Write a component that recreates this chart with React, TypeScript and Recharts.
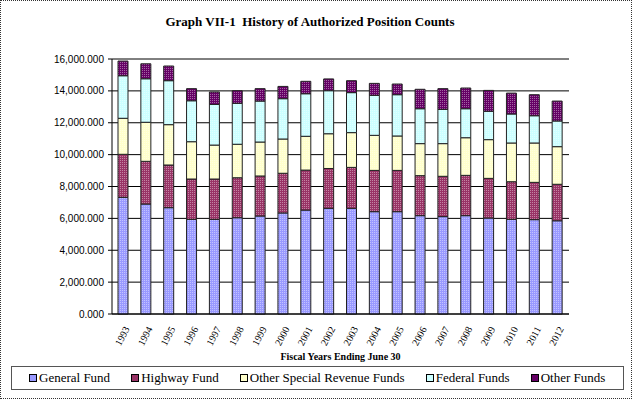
import React from 'react';
import { BarChart, Bar, XAxis, YAxis, CartesianGrid, Legend } from 'recharts';

const years = [
  '1993', '1994', '1995', '1996', '1997', '1998', '1999', '2000', '2001', '2002',
  '2003', '2004', '2005', '2006', '2007', '2008', '2009', '2010', '2011', '2012',
];

const generalFund = [7320, 6900, 6670, 5940, 5940, 6040, 6150, 6340, 6520, 6630, 6630, 6420, 6420, 6170, 6110, 6170, 6020, 5940, 5920, 5850];
const highwayFund = [2700, 2680, 2680, 2530, 2530, 2510, 2510, 2490, 2510, 2500, 2570, 2590, 2590, 2510, 2530, 2530, 2490, 2360, 2340, 2290];
const otherSpecialRevenue = [2260, 2450, 2530, 2340, 2130, 2100, 2130, 2150, 2120, 2180, 2180, 2200, 2160, 2010, 2050, 2360, 2430, 2430, 2470, 2360];
const federalFunds = [2670, 2730, 2760, 2570, 2550, 2570, 2570, 2530, 2670, 2700, 2510, 2510, 2590, 2190, 2150, 1820, 1780, 1820, 1710, 1610];
const otherFunds = [920, 940, 920, 760, 780, 790, 780, 770, 780, 740, 750, 750, 670, 1220, 1300, 1300, 1310, 1310, 1320, 1250];

const yTicks = [0, 2000, 4000, 6000, 8000, 10000, 12000, 14000, 16000];

const series = [
  { key: 'gf', name: 'General Fund', color: '#9999ff', values: generalFund },
  { key: 'hf', name: 'Highway Fund', color: '#993366', values: highwayFund },
  { key: 'osr', name: 'Other Special Revenue Funds', color: '#ffffcc', values: otherSpecialRevenue },
  { key: 'ff', name: 'Federal Funds', color: '#ccffff', values: federalFunds },
  { key: 'of', name: 'Other Funds', color: '#660066', values: otherFunds },
];

const data = years.map((year, i) => {
  const row: Record<string, string | number> = { year };
  series.forEach((s) => {
    row[s.key] = s.values[i];
  });
  return row;
});

const serif = 'Liberation Serif';
const sans = 'Liberation Sans';

const fmt = (v: number) =>
  v.toLocaleString('en-US', { minimumFractionDigits: 3, maximumFractionDigits: 3 });

const YearTick = (props: any) => {
  const { x, y, payload } = props;
  return (
    <g transform={`translate(${x + 3},${y + 5})`}>
      <text
        x={0}
        y={0}
        dy={4}
        textAnchor="end"
        transform="rotate(-62)"
        style={{ fontFamily: serif, fontSize: 10 }}
        fill="#000"
      >
        {payload.value}
      </text>
    </g>
  );
};

const FundLegend = () => (
  <div
    style={{
      border: '1px solid #555',
      height: 22,
      display: 'flex',
      alignItems: 'center',
      paddingLeft: 17,
      gap: 21,
      fontFamily: serif,
      fontSize: 13,
      color: '#000',
      whiteSpace: 'nowrap',
    }}
  >
    {series.map((s) => (
      <div key={s.key} style={{ display: 'flex', alignItems: 'center' }}>
        <span
          style={{
            width: 6,
            height: 6,
            background: s.color,
            border: '1px solid #000',
            marginRight: 2,
            display: 'inline-block',
          }}
        />
        <span>{s.name}</span>
      </div>
    ))}
  </div>
);

export default function App() {
  return (
    <div style={{ position: 'absolute', left: 0, top: 0, width: 632, height: 399, background: '#fff', fontFamily: serif }}>
      <div
        style={{
          position: 'absolute',
          left: 0,
          top: 14,
          width: 620,
          textAlign: 'center',
          fontFamily: serif,
          fontWeight: 'bold',
          fontSize: 13,
          lineHeight: '16px',
          color: '#000',
        }}
      >
        Graph VII-1&nbsp;&nbsp;History of Authorized Position Counts
      </div>
      <BarChart
        width={632}
        height={399}
        data={data}
        margin={{ top: 59, right: 63, bottom: 39, left: 0 }}
        barSize={10}
      >
        <defs>
          {series.map((s) => (
            <pattern key={s.key} id={`dots-${s.key}`} width={2} height={2} patternUnits="userSpaceOnUse">
              <rect width={2} height={2} fill={s.color} />
              <rect width={1} height={1} fill="#fff" fillOpacity={0.4} />
            </pattern>
          ))}
        </defs>
        <CartesianGrid vertical={false} stroke="#000" strokeWidth={1} />
        <XAxis
          dataKey="year"
          height={46}
          interval={0}
          tickLine={false}
          axisLine={{ stroke: '#000' }}
          tick={<YearTick />}
          label={{
            value: 'Fiscal Years Ending June 30',
            position: 'insideBottom',
            offset: 0,
            style: { fontFamily: serif, fontWeight: 'bold', fontSize: 10, fill: '#000' },
          }}
        />
        <YAxis
          width={112}
          domain={[0, 16000]}
          ticks={yTicks}
          tickFormatter={fmt}
          tickSize={4}
          tickMargin={4}
          axisLine={{ stroke: '#000' }}
          tickLine={{ stroke: '#000' }}
          tick={{ style: { fontFamily: sans, fontSize: 10 }, fill: '#000' }}
        />
        <YAxis
          yAxisId="edge"
          orientation="right"
          width={0}
          tick={false}
          tickLine={false}
          axisLine={{ stroke: '#999', strokeDasharray: '1 1' }}
        />
        <Legend
          layout="horizontal"
          verticalAlign="middle"
          align="center"
          content={() => <FundLegend />}
          wrapperStyle={{ left: 11, top: 366, width: 613, height: 24 }}
        />
        {series.map((s) => (
          <Bar
            key={s.key}
            dataKey={s.key}
            name={s.name}
            stackId="funds"
            fill={`url(#dots-${s.key})`}
            stroke="#222"
            strokeWidth={1}
            isAnimationActive={false}
          />
        ))}
      </BarChart>
      <div
        style={{
          position: 'absolute',
          left: 0,
          top: 0,
          width: 632,
          height: 399,
          boxSizing: 'border-box',
          border: '1px dotted #333',
          pointerEvents: 'none',
        }}
      />
    </div>
  );
}
